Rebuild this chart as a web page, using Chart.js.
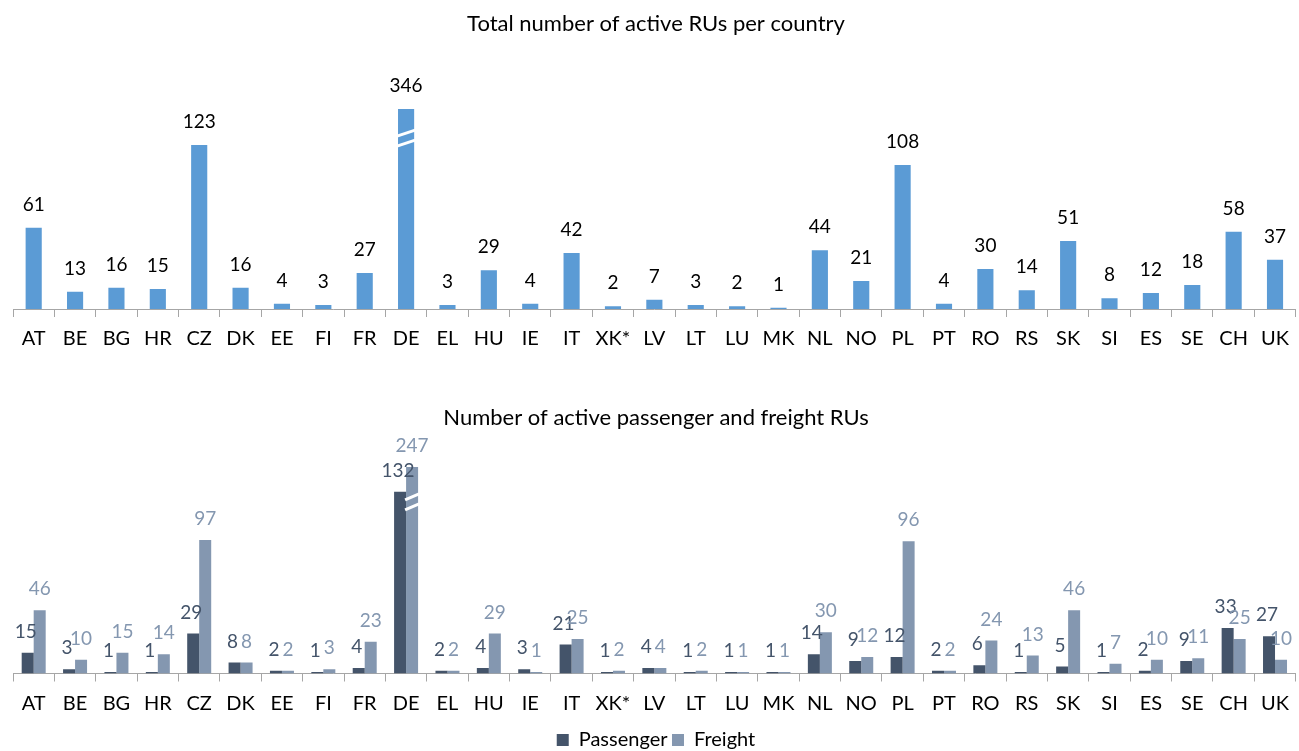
<!DOCTYPE html>
<html lang="en">
<head>
<meta charset="UTF-8">
<title>Active RUs per country</title>
<script src="https://cdn.jsdelivr.net/npm/chart.js"></script>
<style>
  body { margin: 0; background: #fff; }
  .caja { position: absolute; left: 0; width: 1299px; }
  #arriba { top: 0; height: 370px; }
  #abajo { top: 380px; height: 380px; }
</style>
</head>
<body>
<div class="caja" id="arriba"><canvas id="graficoTotal"></canvas></div>
<div class="caja" id="abajo"><canvas id="graficoTipo"></canvas></div>

<script>
// Datos
const paises = ['AT','BE','BG','HR','CZ','DK','EE','FI','FR','DE','EL','HU','IE','IT','XK*','LV','LT','LU','MK','NL','NO','PL','PT','RO','RS','SK','SI','ES','SE','CH','UK'];
const totalRUs = [61,13,16,15,123,16,4,3,27,346,3,29,4,42,2,7,3,2,1,44,21,108,4,30,14,51,8,12,18,58,37];
const pasajeros = [15,3,1,1,29,8,2,1,4,132,2,4,3,21,1,4,1,1,1,14,9,12,2,6,1,5,1,2,9,33,27];
const mercancias = [46,10,15,14,97,8,2,3,23,247,2,29,1,25,2,4,2,1,1,30,12,96,2,24,13,46,7,10,11,25,10];
const tope = 150; // las barras mayores se cortan y llevan marca de corte

const fuente = 'Lato, "Noto Sans", sans-serif';
const gris = '#A6A6A6';

// Etiquetas encima de cada barra + marca de corte
const etiquetas = {
  id: 'etiquetas',
  afterDatasetsDraw(chart, args, opts) {
    const ctx = chart.ctx;
    chart.data.datasets.forEach((ds, i) => {
      chart.getDatasetMeta(i).data.forEach((bar, j) => {
        const real = ds.valores[j];
        ctx.save();
        if (real > tope) {
          ctx.strokeStyle = '#fff';
          ctx.lineWidth = 3;
          opts.corte.forEach(d => {
            ctx.beginPath();
            ctx.moveTo(bar.x - bar.width / 2 - 1, bar.y + d + 3);
            ctx.lineTo(bar.x + bar.width / 2 + 1, bar.y + d - 3);
            ctx.stroke();
          });
        }
        ctx.fillStyle = ds.colorEtiqueta;
        ctx.font = '19px ' + fuente;
        ctx.textAlign = 'center';
        ctx.textBaseline = 'middle';
        ctx.fillText(real, bar.x + (ds.dx || 0), bar.y - opts.dy);
        ctx.restore();
      });
    });
  }
};

function ejeX() {
  return {
    grid: { offset: true, drawOnChartArea: false, tickLength: 8, color: gris },
    border: { color: gris },
    ticks: { font: { family: fuente, size: 20 }, color: '#000', padding: 10, maxRotation: 0, autoSkip: false }
  };
}

// Gráfico superior
new Chart(document.getElementById('graficoTotal'), {
  type: 'bar',
  data: {
    labels: paises,
    datasets: [{
      data: totalRUs.map(v => Math.min(v, tope)),
      valores: totalRUs,
      colorEtiqueta: '#000',
      backgroundColor: '#5B9BD5',
      borderWidth: 0,
      barPercentage: 0.39,
      categoryPercentage: 1
    }]
  },
  options: {
    responsive: true,
    maintainAspectRatio: false,
    animation: false,
    layout: { padding: { left: 13, right: 0, top: 0, bottom: 9 } },
    plugins: {
      legend: { display: false },
      tooltip: { enabled: false },
      title: {
        display: true,
        text: 'Total number of active RUs per country',
        color: '#000',
        font: { family: fuente, size: 22, weight: 'normal' },
        padding: { top: 11, bottom: 45 }
      },
      etiquetas: { dy: 23, corte: [24, 34] }
    },
    scales: {
      x: ejeX(),
      y: { display: false, min: 0, max: 170 }
    }
  },
  plugins: [etiquetas]
});

// Gráfico inferior
new Chart(document.getElementById('graficoTipo'), {
  type: 'bar',
  data: {
    labels: paises,
    datasets: [{
      label: 'Passenger',
      data: pasajeros.map(v => Math.min(v, tope)),
      valores: pasajeros,
      colorEtiqueta: '#44546A',
      dx: -2,
      backgroundColor: '#44546A',
      borderWidth: 0,
      barPercentage: 1,
      categoryPercentage: 0.58
    }, {
      label: 'Freight',
      data: mercancias.map(v => Math.min(v, tope)),
      valores: mercancias,
      colorEtiqueta: '#8497B0',
      backgroundColor: '#8497B0',
      borderWidth: 0,
      barPercentage: 1,
      categoryPercentage: 0.58
    }]
  },
  options: {
    responsive: true,
    maintainAspectRatio: false,
    animation: false,
    layout: { padding: { left: 13, right: 0, top: 0, bottom: 0 } },
    plugins: {
      legend: {
        position: 'bottom',
        labels: { boxWidth: 12, boxHeight: 12, color: '#000', font: { family: fuente, size: 20 }, padding: 4.5 }
      },
      tooltip: { enabled: false },
      title: {
        display: true,
        text: 'Number of active passenger and freight RUs',
        color: '#000',
        font: { family: fuente, size: 22, weight: 'normal' },
        padding: { top: 25, bottom: 8 }
      },
      etiquetas: { dy: 21, corte: [30, 40] }
    },
    scales: {
      x: ejeX(),
      y: { display: false, min: 0, max: 170 }
    }
  },
  plugins: [etiquetas]
});
</script>
</body>
</html>
